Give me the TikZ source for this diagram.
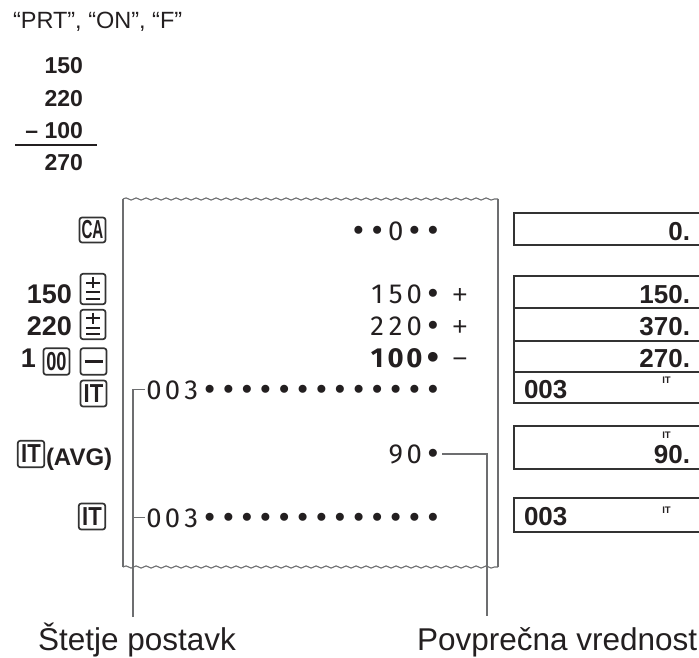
\documentclass[tikz,border=0pt]{standalone}
\usepackage{fontspec}
\setmainfont{Liberation Sans}
\newfontfamily\paperfont{Fira Sans}
\newfontfamily\bulletfont{DejaVu Sans}
\usepackage{graphicx}
\usetikzlibrary{decorations.pathmorphing}
\makeatletter
\newcommand\cellrow[1]{\@tfor\cellch:=#1\do{\makebox[18.6pt][c]{\cellch}}}
\makeatother
\newcommand\B{{\bulletfont •}}
\definecolor{ink}{HTML}{231F20}
\definecolor{paperline}{HTML}{6D6E70}
\definecolor{keyline}{HTML}{333333}
\begin{document}
\begin{tikzpicture}[x=1pt,y=-1pt,
  every node/.style={inner sep=0pt, outer sep=0pt, text=ink},
  ptext/.style={font=\paperfont\fontsize{27.5}{27.5}\selectfont, anchor=base east},
  psign/.style={font=\fontsize{26}{26}\selectfont, anchor=base},
  lnum/.style={font=\bfseries\fontsize{27}{27}\selectfont, anchor=base east},
  tnum/.style={font=\bfseries\fontsize{23}{23}\selectfont, anchor=base east},
  keybox/.style={draw=keyline, line width=1.7pt, rounded corners=2.5pt,
    font=\bfseries\fontsize{26}{26}\selectfont},
  keyglyph/.style={draw=ink, line width=2pt},
  dbox/.style={draw=keyline, line width=1.6pt},
  dtext/.style={font=\bfseries\fontsize{26}{26}\selectfont},
  itsup/.style={font=\bfseries\fontsize{9.5}{9.5}\selectfont, anchor=base},
  paperedge/.style={draw=paperline, line width=1.1pt},
  wavy/.style={paperedge, decorate, decoration={snake, segment length=10pt, amplitude=1.1pt}},
  conn/.style={draw=paperline, line width=1.2pt},
  label/.style={font=\fontsize{31.5}{31.5}\selectfont, anchor=base west}
]
\useasboundingbox (0,0) rectangle (699,657);

% header and worked sum
\node[font=\fontsize{23.5}{23.5}\selectfont, anchor=base west] (hdr) at (13,28) {“PRT”, “ON”, “F”};
\node[tnum] (t1) at (83,73) {150};
\node[tnum] (t2) at (83,106) {220};
\node[tnum] (t3) at (83,138) {– 100};
\node[tnum] (t4) at (83,170) {270};
\coordinate (sumL) at (15,145);
\coordinate (sumR) at (97,145);
\draw[draw=ink, line width=2pt] (sumL) -- (sumR);

% paper strip
\draw[paperedge] (123,567) -- (123,199);
\draw[wavy] (123,199) -- (498,199);
\draw[paperedge] (498,199) -- (498,567);
\draw[wavy] (123,567) -- (498,567);

% paper print
\node[ptext] (p0) at (442.3,240) {\cellrow{\B\B0\B\B}};
\node[ptext] (p1) at (442.3,303) {\cellrow{150\B}};
\node[psign] (s1) at (460,303) {+};
\node[ptext] (p2) at (442.3,335) {\cellrow{220\B}};
\node[psign] (s2) at (460,335) {+};
\node[ptext, font=\paperfont\bfseries\fontsize{27.5}{27.5}\selectfont] (p3) at (442.3,367) {\cellrow{100\B}};
\node[psign] (s3) at (460,367) {−};
\node[ptext] (p5) at (442.3,399) {\cellrow{003\B\B\B\B\B\B\B\B\B\B\B\B\B}};
\node[ptext] (p6) at (442.3,463) {\cellrow{90\B}};
\node[ptext] (p7) at (442.3,527) {\cellrow{003\B\B\B\B\B\B\B\B\B\B\B\B\B}};

% connectors
\coordinate (cl) at (133,617);
\coordinate (cr) at (487,616);
\draw[conn] (cl) |- (p5.west);
\draw[conn] (p7.west -| cl) -- (p7.west);
\draw[conn] (p6.east) -| (cr);

% labels
\node[label] (lab1) at (38,650) {Štetje postavk};
\node[label] (lab2) at (417,650) {Povprečna vrednost};

% keys
\node[keybox, minimum width=26pt, minimum height=25pt] (kCA) at (92.5,230) {\scalebox{0.58}[1]{CA}};
\node[lnum] (n150) at (72,303) {150};
\node[keybox, minimum width=25pt, minimum height=30.5pt] (kP1) at (93,289) {};
\node[lnum] (n220) at (72,335) {220};
\node[keybox, minimum width=25pt, minimum height=29.5pt] (kP2) at (93,324.5) {};
\node[lnum] (n1) at (36,367) {1};
\node[keybox, minimum width=26pt, minimum height=26.5pt] (k00) at (56.5,361.5) {\scalebox{0.7}[1]{00}};
\node[keybox, minimum width=26pt, minimum height=26.5pt] (kM) at (93.5,361.5) {};
\node[keybox, minimum width=26pt, minimum height=26pt] (kIT1) at (93.5,393.5) {\scalebox{0.85}[1]{IT}};
\node[keybox, minimum width=26.5pt, minimum height=26.5pt] (kIT2) at (31,454) {\scalebox{0.85}[1]{IT}};
\node[font=\bfseries\fontsize{24}{24}\selectfont, anchor=base west] (avg) at (46,465) {(AVG)};
\node[keybox, minimum width=26.5pt, minimum height=26pt] (kIT3) at (92,516.5) {\scalebox{0.85}[1]{IT}};

% key glyphs
\foreach \k in {kP1,kP2}{
  \draw[keyglyph] ([shift={(0,-12)}]\k.center) -- ([shift={(0,-1)}]\k.center);
  \draw[keyglyph] ([shift={(-7,-6.5)}]\k.center) -- ([shift={(7,-6.5)}]\k.center);
  \draw[keyglyph] ([shift={(-7,3)}]\k.center) -- ([shift={(7,3)}]\k.center);
  \draw[keyglyph] ([shift={(-7,9.5)}]\k.center) -- ([shift={(7,9.5)}]\k.center);
}
\draw[keyglyph, line width=3.5pt] ([shift={(-9,0)}]kM.center) -- ([shift={(9,0)}]kM.center);

% display
\draw[dbox] (514,213) rectangle (712,245);
\draw[dbox] (514,276) rectangle (712,403);
\draw[dbox] (514,308) -- (712,308);
\draw[dbox] (514,341) -- (712,341);
\draw[dbox] (514,372) -- (712,372);
\draw[dbox] (514,426) rectangle (712,469);
\draw[dbox] (514,498) rectangle (712,532);
\node[dtext, anchor=base east] (d0) at (690,240) {0.};
\node[dtext, anchor=base east] (d1) at (690,303) {150.};
\node[dtext, anchor=base east] (d2) at (690,335) {370.};
\node[dtext, anchor=base east] (d3) at (690,367) {270.};
\node[dtext, anchor=base west] (d4) at (524,398) {003};
\node[itsup] (i4) at (666.5,383) {IT};
\node[itsup] (i5) at (666.5,438) {IT};
\node[dtext, anchor=base east] (d5) at (690,463) {90.};
\node[dtext, anchor=base west] (d6) at (524,525) {003};
\node[itsup] (i6) at (666.5,513) {IT};
\end{tikzpicture}
\end{document}
